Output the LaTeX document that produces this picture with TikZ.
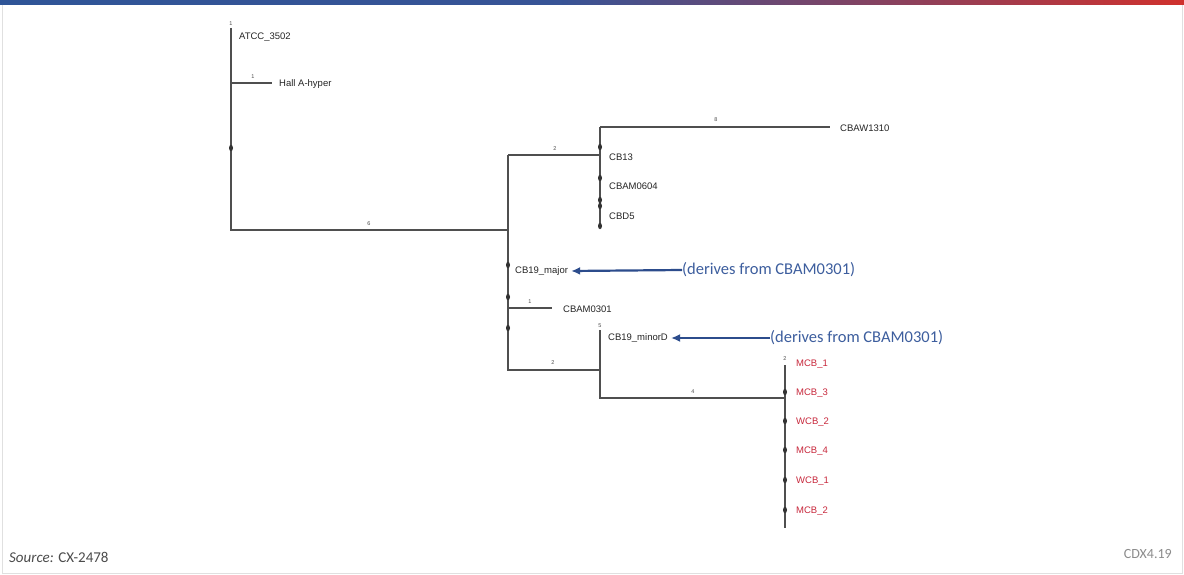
\documentclass[tikz,border=0pt]{standalone}
\usepackage{fontspec}
\setmainfont{Liberation Sans}
\newfontfamily\calib{Carlito}
\usetikzlibrary{arrows.meta}
\definecolor{treegray}{HTML}{4F4F4F}
\definecolor{mcbred}{HTML}{C8283C}
\definecolor{anno}{HTML}{3D5E9E}
\definecolor{arr}{HTML}{2C4C8C}
\definecolor{barblue}{HTML}{2F5597}
\definecolor{barred}{HTML}{D0312D}
\definecolor{barmid}{HTML}{5A4E90}
\begin{document}
\begin{tikzpicture}[x=1pt,y=-1pt,
  br/.style={draw=treegray, line width=1.1pt},
  leaf/.style={anchor=west, inner sep=0pt, font=\fontsize{9.5}{11}\selectfont, text=black!85},
  redleaf/.style={leaf, text=mcbred},
  blen/.style={inner sep=0pt, font=\fontsize{5.5}{6}\selectfont, text=black!70},
  annot/.style={anchor=west, inner sep=0pt, font=\calib\fontsize{16.5}{19}\selectfont, text=anno},
  derive/.style={draw=arr, line width=2.2pt, -{Latex[length=9pt,width=8pt]}},
  dotm/.style={fill=black!80}
]
\useasboundingbox (0,0) rectangle (1184,575);
\fill[white] (0,0) rectangle (1184,575);
% top bar
\shade[left color=barblue, right color=barblue!80!barmid] (0,0) rectangle (560,5);
\shade[left color=barblue!80!barmid, right color=barred] (560,0) rectangle (1184,5);
\draw[black!12, line width=0.8pt] (2,5) -- (2,573) -- (1182,573) -- (1182,5);

% junction coordinates
\coordinate (r0) at (231,28);
\coordinate (rH) at (231,83);
\coordinate (rB) at (231,230);
\coordinate (hE) at (272,83);
\coordinate (aT) at (508,155);
\coordinate (aB) at (508,230);
\coordinate (aM) at (508,308);
\coordinate (aL) at (508,370);
\coordinate (cbaE) at (552,308);
\coordinate (bT) at (600,127);
\coordinate (bM) at (600,155);
\coordinate (bB) at (600,228);
\coordinate (cwE) at (830,127);
\coordinate (dT) at (600,330);
\coordinate (dM) at (600,370);
\coordinate (dB) at (600,398);
\coordinate (eT) at (785,365);
\coordinate (eM) at (785,398);
\coordinate (eB) at (785,528);

% tree lines
\draw[br] (r0) -- (rB) -- (aB);
\draw[br] (rH) -- (hE);
\draw[br] (aT) -- (aL) -- (dM);
\draw[br] (aT) -- (bM);
\draw[br] (aM) -- (cbaE);
\draw[br] (bT) -- (bB);
\draw[br] (bT) -- (cwE);
\draw[br] (dT) -- (dB) -- (eM);
\draw[br] (eT) -- (eB);

% dots on verticals
\foreach \p in {(231,148),(600,147),(600,178),(600,200),(600,206),(600,226),(508,265),(508,297),(508,328),(785,392),(785,421),(785,450),(785,480),(785,510)}
  \fill[dotm] \p ellipse (2 and 3.2);

% branch lengths
\node[blen] (l0) at (231,24) {1};
\node[blen] (l1) at (253,77) {1};
\node[blen] (l2) at (369,224) {6};
\node[blen] (l3) at (555,149) {2};
\node[blen] (l4) at (716,120) {8};
\node[blen] (l5) at (530,302) {1};
\node[blen] (l6) at (553,363) {2};
\node[blen] (l7) at (600,326) {5};
\node[blen] (l8) at (693,392) {4};
\node[blen] (l9) at (785,359) {2};

% leaf labels
\node[leaf] (atcc) at (239,37) {ATCC\_3502};
\node[leaf] (hall) at (279,84) {Hall A-hyper};
\node[leaf] (cbaw) at (840,128) {CBAW1310};
\node[leaf] (cb13) at (609,157) {CB13};
\node[leaf] (cbam0604) at (609,186) {CBAM0604};
\node[leaf] (cbd5) at (609,216) {CBD5};
\node[leaf] (cb19maj) at (515,271) {CB19\_major};
\node[leaf] (cbam0301) at (563,309) {CBAM0301};
\node[leaf] (cb19min) at (608,338) {CB19\_minorD};
\node[redleaf] (mcb1) at (796,364) {MCB\_1};
\node[redleaf] (mcb3) at (796,393) {MCB\_3};
\node[redleaf] (wcb2) at (796,422) {WCB\_2};
\node[redleaf] (mcb4) at (796,451) {MCB\_4};
\node[redleaf] (wcb1) at (796,481) {WCB\_1};
\node[redleaf] (mcb2) at (796,511) {MCB\_2};

% annotations
\node[annot] (d1) at (682,270) {(derives from CBAM0301)};
\node[annot] (d2) at (770,338) {(derives from CBAM0301)};
\draw[derive] (d1.west) -- ([xshift=3pt]cb19maj.east);
\draw[derive] (d2.west) -- ([xshift=3pt]cb19min.east);

% footer
\node[anchor=west, inner sep=0pt, font=\calib\fontsize{15}{17}\selectfont, text=black!70] (src) at (9,557) {\textit{Source:} CX-2478};
\node[anchor=east, inner sep=0pt, font=\calib\fontsize{14}{16}\selectfont, text=black!45] (cdx) at (1172,554) {CDX4.19};
\end{tikzpicture}
\end{document}
